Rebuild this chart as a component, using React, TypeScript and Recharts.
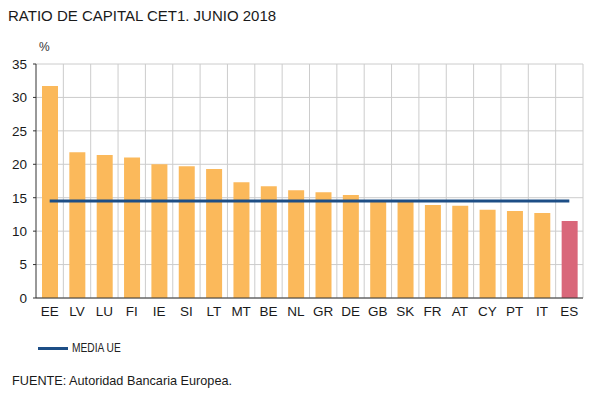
import {
  ComposedChart,
  Bar,
  Line,
  Cell,
  XAxis,
  YAxis,
  CartesianGrid
} from "recharts";

const countries = ["EE", "LV", "LU", "FI", "IE", "SI", "LT", "MT", "BE", "NL", "GR", "DE", "GB", "SK", "FR", "AT", "CY", "PT", "IT", "ES"];
const cet1 = [31.7, 21.8, 21.4, 21.0, 20.0, 19.7, 19.3, 17.3, 16.7, 16.1, 15.8, 15.4, 14.5, 14.5, 13.9, 13.8, 13.2, 13.0, 12.7, 11.5];
const mediaUE = 14.5;
const yTicks = [0, 5, 10, 15, 20, 25, 30, 35];
const highlight = "ES";

const data = countries.map((c, i) => ({ pais: c, valor: cet1[i], media: mediaUE }));

const FONT = "'Liberation Sans', Arial, sans-serif";

function App() {
  return (
    <div style={{ position: "absolute", left: 0, top: 0, width: 591, height: 393, background: "#fff", fontFamily: FONT }}>
      <div style={{ position: "absolute", left: 8, top: 7, fontSize: 15, color: "#1a1a1a", whiteSpace: "nowrap" }}>
        RATIO DE CAPITAL CET1. JUNIO 2018
      </div>
      <div style={{ position: "absolute", left: 39, top: 40, fontSize: 12, color: "#333" }}>%</div>
      <div style={{ position: "absolute", left: 0, top: 0 }}>
        <ComposedChart
          width={591}
          height={330}
          data={data}
          margin={{ top: 64, right: 8, bottom: 2, left: 0 }}
        >
          <CartesianGrid
            horizontal={{ stroke: "#9a9a9a", strokeDasharray: "2 2" }}
            vertical={{ stroke: "#b5b5b5", strokeDasharray: "" }}
            verticalCoordinatesGenerator={({ offset }: any) =>
              countries.map((_, i) => offset.left + ((i + 1) * offset.width) / countries.length)
            }
          />
          <XAxis
            dataKey="pais"
            height={30}
            tickLine={false}
            axisLine={{ stroke: "#333" }}
            tick={{ fontSize: 13.5, fill: "#1a1a1a", fontFamily: FONT }}
            interval={0}
          />
          <YAxis
            width={36}
            domain={[0, 35]}
            ticks={yTicks}
            tickSize={3}
            tickLine={{ stroke: "#333" }}
            axisLine={{ stroke: "#333" }}
            tick={{ fontSize: 13.5, fill: "#1a1a1a", fontFamily: FONT }}
            tickMargin={6}
          />
          <Bar dataKey="valor" barSize={16} isAnimationActive={false}>
            {data.map((d) => (
              <Cell key={d.pais} fill={d.pais === highlight ? "#d9677a" : "#fbb95b"} />
            ))}
          </Bar>
          <Line
            dataKey="media"
            stroke="#1d4e86"
            strokeWidth={3}
            dot={false}
            activeDot={false}
            isAnimationActive={false}
          />
        </ComposedChart>
      </div>
      <div style={{ position: "absolute", left: 38, top: 341, display: "flex", alignItems: "center" }}>
        <div style={{ width: 30, height: 3, background: "#1d4e86" }} />
        <span style={{ marginLeft: 4, fontSize: 12, color: "#222", transform: "scaleX(0.85)", transformOrigin: "left center", display: "inline-block" }}>
          MEDIA UE
        </span>
      </div>
      <div style={{ position: "absolute", left: 12, top: 374, fontSize: 12.7, color: "#1a1a1a" }}>
        FUENTE: Autoridad Bancaria Europea.
      </div>
    </div>
  );
}

export default App;
